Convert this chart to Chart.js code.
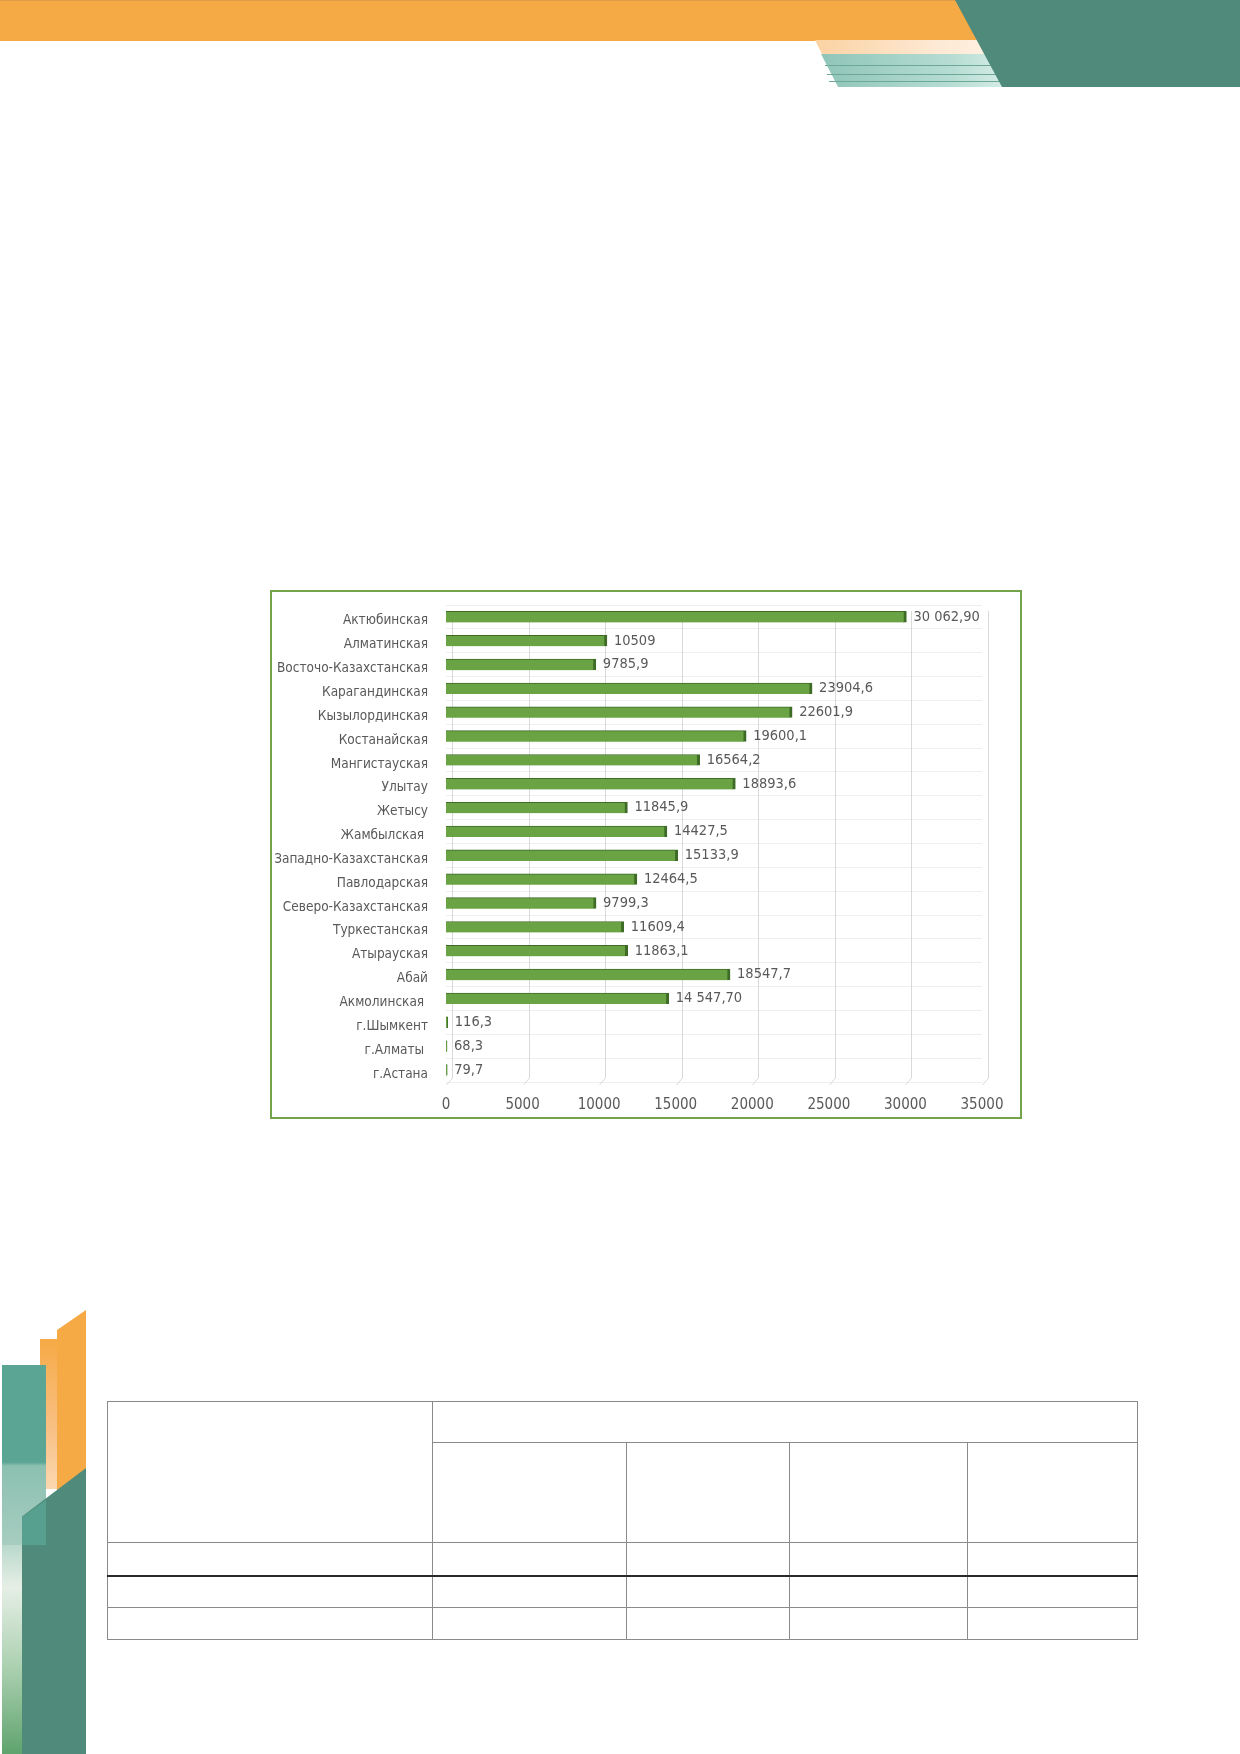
<!DOCTYPE html>
<html>
<head>
<meta charset="utf-8">
<script src="https://cdn.jsdelivr.net/npm/chart.js"></script>
<style>
  body { margin: 0; background: #fff; }
  #page { position: relative; width: 1240px; height: 1754px; overflow: hidden; background: #fff; }
  .deco { position: absolute; }
  #box { position: absolute; left: 270px; top: 590px; width: 752px; height: 529px; box-sizing: border-box; border: 2px solid #73a44c; }
  #wrap { position: absolute; left: 0; top: 0; width: 748px; height: 525px; }
  table { position: absolute; left: 107px; top: 1401px; width: 1031px; border-collapse: collapse; }
  td { border: 1.5px solid #8a8a8a; padding: 0; }
  tr.dark td { border-top: 2px solid #2a2a2a; }
</style>
</head>
<body>
<div id="page">
  <!-- шапка -->
  <div class="deco" style="left:0;top:0;width:990px;height:40px;background:#f6aa46;border-top:1px solid #e09a48;"></div>
  <div class="deco" style="left:815px;top:40px;width:200px;height:14px;background:linear-gradient(to right,#fbd2a2,#fde9d4 60%,#fff3e6);clip-path:polygon(0 0,100% 0,100% 100%,3.5% 100%);"></div>
  <div class="deco" style="left:821px;top:54px;width:190px;height:33px;background:linear-gradient(to right,#8fc5b8,#b7ddd3 70%,#d9eee9);clip-path:polygon(0 0,100% 0,100% 100%,9% 100%);"></div>
  <div class="deco" style="left:825px;top:65px;width:180px;height:1px;background:#6da797;"></div>
  <div class="deco" style="left:827px;top:74px;width:180px;height:1px;background:#6da797;"></div>
  <div class="deco" style="left:829px;top:81px;width:180px;height:1px;background:#6da797;"></div>
  <div class="deco" style="left:955px;top:0;width:285px;height:87px;background:#4f8a7b;clip-path:polygon(0 0,100% 0,100% 100%,16.5% 100%);"></div>

  <!-- левый низ -->
  <div class="deco" style="left:40px;top:1339px;width:17px;height:150px;background:linear-gradient(to bottom,#f6aa46,#f8c084 60%,#fbd8b0);"></div>
  <div class="deco" style="left:57px;top:1310px;width:29px;height:190px;background:#f6aa46;clip-path:polygon(0 10.5%,100% 0,100% 89.5%,0 100%);"></div>
  <div class="deco" style="left:2px;top:1365px;width:44px;height:180px;background:linear-gradient(to bottom,#5aa594,#5aa594 54%,#8cc0b1 56%,#a6cdc0);"></div>
  <div class="deco" style="left:2px;top:1545px;width:20px;height:209px;background:linear-gradient(to bottom,#b9d8cc,#e6efe6 20%,#a9cfae 60%,#5fa36e);"></div>
  <div class="deco" style="left:22px;top:1468px;width:64px;height:286px;background:#4f8a7b;clip-path:polygon(0 17%,100% 0,100% 100%,0 100%);"></div>
  <div class="deco" style="left:22px;top:1500px;width:24px;height:45px;background:rgba(90,165,148,0.75);clip-path:polygon(0 38%,100% 0,100% 100%,0 100%);"></div>

  <div id="box"><div id="wrap"><canvas id="myChart"></canvas></div></div>

  <table>
    <tr style="height:41px"><td rowspan="2" style="width:324px"></td><td colspan="4"></td></tr>
    <tr style="height:100px"><td style="width:193px"></td><td style="width:162px"></td><td style="width:177px"></td><td></td></tr>
    <tr style="height:33px"><td></td><td></td><td></td><td></td><td></td></tr>
    <tr class="dark" style="height:32px"><td></td><td></td><td></td><td></td><td></td></tr>
    <tr style="height:32px"><td></td><td></td><td></td><td></td><td></td></tr>
  </table>
</div>

<script>
// области, сверху вниз
const regions = [
  "Актюбинская", "Алматинская", "Восточо-Казахстанская", "Карагандинская",
  "Кызылординская", "Костанайская", "Мангистауская", "Улытау", "Жетысу",
  "Жамбылская ", "Западно-Казахстанская", "Павлодарская", "Северо-Казахстанская",
  "Туркестанская", "Атырауская", "Абай", "Акмолинская ", "г.Шымкент",
  "г.Алматы ", "г.Астана",
];
const values = [
  30062.9, 10509, 9785.9, 23904.6, 22601.9, 19600.1, 16564.2, 18893.6, 11845.9,
  14427.5, 15133.9, 12464.5, 9799.3, 11609.4, 11863.1, 18547.7, 14547.7, 116.3,
  68.3, 79.7,
];
// подписи как на рисунке
const valueLabels = [
  "30 062,90", "10509", "9785,9", "23904,6", "22601,9", "19600,1", "16564,2",
  "18893,6", "11845,9", "14427,5", "15133,9", "12464,5", "9799,3", "11609,4",
  "11863,1", "18547,7", "14 547,70", "116,3", "68,3", "79,7",
];
const xTicks = [0, 5000, 10000, 15000, 20000, 25000, 30000, 35000];

const FONT = "'Liberation Sans Narrow', 'DejaVu Sans Condensed', 'Liberation Sans', sans-serif";

// сетка "на задней стенке" как в объёмной диаграмме Excel
const backGrid = {
  id: "backGrid",
  beforeDatasetsDraw(chart) {
    const ctx = chart.ctx;
    const x = chart.scales.x;
    const area = chart.chartArea;
    ctx.save();
    ctx.strokeStyle = "#d9d9d9";
    ctx.lineWidth = 1;
    xTicks.forEach(function (v) {
      const px = Math.round(x.getPixelForValue(v)) + 0.5;
      ctx.beginPath();
      ctx.moveTo(px + 6, area.top + 6);
      ctx.lineTo(px + 6, area.bottom - 4);
      ctx.lineTo(px, area.bottom + 3);
      ctx.stroke();
    });
    ctx.restore();
  },
};

const barLabels = {
  id: "barLabels",
  afterDatasetsDraw(chart) {
    const ctx = chart.ctx;
    const meta = chart.getDatasetMeta(0);
    ctx.save();
    ctx.font = "14.5px " + FONT;
    ctx.fillStyle = "#595959";
    ctx.textAlign = "left";
    ctx.textBaseline = "middle";
    meta.data.forEach(function (bar, i) {
      ctx.fillText(valueLabels[i], bar.x + 7, bar.y);
    });
    ctx.restore();
  },
};

const ctx = document.getElementById("myChart");

new Chart(ctx, {
  type: "bar",
  data: {
    labels: regions,
    datasets: [
      {
        data: values,
        backgroundColor: "#69a343",
        borderColor: "#3e6b26",
        borderWidth: { top: 1, right: 3, bottom: 0, left: 0 },
        borderSkipped: false,
        barThickness: 11,
      },
    ],
  },
  options: {
    indexAxis: "y",
    responsive: true,
    maintainAspectRatio: false,
    animation: false,
    layout: { padding: { left: 0, right: 38, top: 13, bottom: 0 } },
    plugins: {
      legend: { display: false },
      tooltip: { enabled: false },
    },
    scales: {
      x: {
        min: 0,
        max: 35000,
        afterBuildTicks(scale) {
          scale.ticks = xTicks.map(function (v) { return { value: v }; });
        },
        afterFit(scale) {
          scale.height = 35;
          scale.paddingLeft = 0;
          scale.paddingRight = 0;
        },
        grid: { display: false, drawTicks: false },
        border: { display: false },
        ticks: {
          padding: 14,
          color: "#595959",
          font: { family: FONT, size: 15 },
          callback: function (v) { return String(v); },
        },
      },
      y: {
        afterFit(scale) {
          scale.width = 174;
          scale.paddingTop = 0;
          scale.paddingBottom = 0;
        },
        grid: { color: "#efefef", drawTicks: false },
        border: { display: false },
        ticks: {
          padding: 18,
          labelOffset: 4,
          color: "#595959",
          font: { family: FONT, size: 13.5 },
        },
      },
    },
  },
  plugins: [backGrid, barLabels],
});
</script>
</body>
</html>
